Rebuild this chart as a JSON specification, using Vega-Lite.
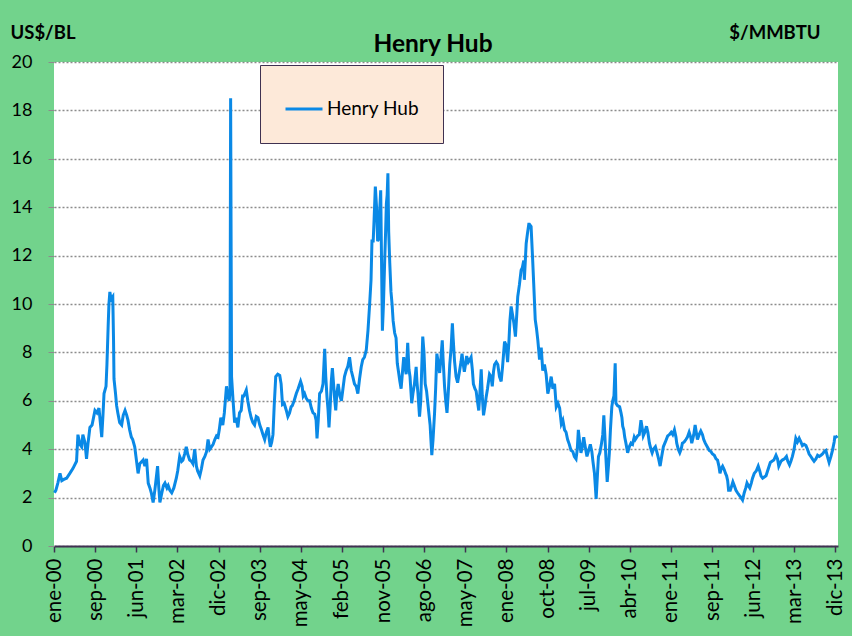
{
  "$schema": "https://vega.github.io/schema/vega-lite/v6.json",
  "width": 784,
  "height": 484,
  "autosize": "none",
  "padding": {"left": 54, "top": 62, "right": 14, "bottom": 90},
  "background": "#72D38C",
  "title": {"text": "Henry Hub", "fontSize": 24.5, "font": "Lato", "fontWeight": "bold", "color": "black", "dx": -13, "offset": 8, "dy": 42},
  "config": {
    "view": {"fill": "white", "stroke": null},
    "axis": {"labelFont": "Lato", "labelColor": "black", "titleFont": "Lato", "titleColor": "black"}
  },
  "data": {"values": [
{"d":"2000-01-04","v":2.2},{"d":"2000-01-13","v":2.3},{"d":"2000-01-26","v":2.6},{"d":"2000-02-09","v":3.0},{"d":"2000-02-21","v":2.7},{"d":"2000-03-05","v":2.75},{"d":"2000-03-23","v":2.8},{"d":"2000-04-13","v":3.0},{"d":"2000-05-03","v":3.2},{"d":"2000-05-27","v":3.5},{"d":"2000-06-05","v":4.6},{"d":"2000-06-18","v":4.2},{"d":"2000-06-29","v":4.1},{"d":"2000-07-07","v":4.6},{"d":"2000-07-20","v":4.3},{"d":"2000-07-31","v":3.6},{"d":"2000-08-09","v":4.2},{"d":"2000-08-22","v":4.9},{"d":"2000-09-05","v":5.0},{"d":"2000-09-24","v":5.6},{"d":"2000-10-07","v":5.5},{"d":"2000-10-20","v":5.7},{"d":"2000-11-07","v":4.5},{"d":"2000-11-15","v":5.4},{"d":"2000-11-22","v":6.3},{"d":"2000-12-05","v":6.6},{"d":"2000-12-11","v":7.5},{"d":"2000-12-19","v":9.1},{"d":"2000-12-24","v":10.0},{"d":"2000-12-30","v":10.5},{"d":"2001-01-07","v":10.2},{"d":"2001-01-18","v":10.3},{"d":"2001-01-23","v":8.5},{"d":"2001-01-26","v":6.9},{"d":"2001-02-05","v":6.3},{"d":"2001-02-12","v":5.8},{"d":"2001-02-20","v":5.5},{"d":"2001-03-04","v":5.1},{"d":"2001-03-17","v":5.0},{"d":"2001-03-27","v":5.4},{"d":"2001-04-08","v":5.6},{"d":"2001-04-19","v":5.4},{"d":"2001-04-27","v":5.2},{"d":"2001-05-08","v":4.8},{"d":"2001-05-19","v":4.5},{"d":"2001-05-28","v":4.4},{"d":"2001-06-10","v":4.1},{"d":"2001-06-20","v":3.6},{"d":"2001-07-02","v":3.0},{"d":"2001-07-13","v":3.4},{"d":"2001-08-04","v":3.55},{"d":"2001-08-15","v":3.3},{"d":"2001-08-26","v":3.6},{"d":"2001-09-06","v":2.6},{"d":"2001-09-17","v":2.4},{"d":"2001-09-26","v":2.2},{"d":"2001-10-08","v":1.8},{"d":"2001-10-19","v":2.3},{"d":"2001-11-06","v":3.3},{"d":"2001-11-14","v":2.4},{"d":"2001-11-21","v":1.8},{"d":"2001-12-04","v":2.2},{"d":"2001-12-14","v":2.5},{"d":"2001-12-24","v":2.6},{"d":"2002-01-06","v":2.4},{"d":"2002-01-14","v":2.5},{"d":"2002-01-25","v":2.3},{"d":"2002-02-06","v":2.2},{"d":"2002-02-20","v":2.4},{"d":"2002-03-08","v":2.8},{"d":"2002-03-17","v":3.1},{"d":"2002-03-30","v":3.7},{"d":"2002-04-12","v":3.5},{"d":"2002-04-20","v":3.55},{"d":"2002-05-01","v":3.8},{"d":"2002-05-12","v":4.1},{"d":"2002-05-21","v":3.8},{"d":"2002-06-03","v":3.55},{"d":"2002-06-14","v":3.5},{"d":"2002-06-24","v":3.4},{"d":"2002-07-06","v":4.0},{"d":"2002-07-17","v":3.3},{"d":"2002-07-25","v":3.1},{"d":"2002-08-08","v":2.9},{"d":"2002-08-19","v":3.2},{"d":"2002-08-29","v":3.55},{"d":"2002-09-10","v":3.7},{"d":"2002-09-21","v":3.9},{"d":"2002-10-01","v":4.4},{"d":"2002-10-12","v":4.0},{"d":"2002-10-23","v":4.1},{"d":"2002-11-03","v":4.2},{"d":"2002-11-14","v":4.4},{"d":"2002-11-25","v":4.55},{"d":"2002-12-05","v":4.5},{"d":"2002-12-13","v":4.8},{"d":"2002-12-23","v":5.3},{"d":"2003-01-05","v":5.0},{"d":"2003-01-15","v":5.5},{"d":"2003-01-29","v":6.6},{"d":"2003-02-07","v":6.2},{"d":"2003-02-16","v":6.0},{"d":"2003-02-21","v":6.4},{"d":"2003-02-25","v":18.5},{"d":"2003-03-03","v":7.0},{"d":"2003-03-13","v":6.0},{"d":"2003-03-23","v":5.1},{"d":"2003-04-02","v":5.3},{"d":"2003-04-13","v":4.9},{"d":"2003-04-24","v":5.5},{"d":"2003-05-05","v":5.6},{"d":"2003-05-14","v":6.2},{"d":"2003-05-22","v":6.2},{"d":"2003-06-07","v":6.45},{"d":"2003-06-17","v":6.0},{"d":"2003-06-28","v":5.6},{"d":"2003-07-09","v":5.3},{"d":"2003-07-20","v":5.1},{"d":"2003-07-31","v":5.0},{"d":"2003-08-11","v":5.35},{"d":"2003-08-22","v":5.3},{"d":"2003-09-03","v":5.0},{"d":"2003-09-14","v":4.8},{"d":"2003-09-24","v":4.6},{"d":"2003-10-05","v":4.4},{"d":"2003-10-16","v":4.7},{"d":"2003-10-27","v":4.9},{"d":"2003-11-04","v":4.4},{"d":"2003-11-11","v":4.1},{"d":"2003-11-20","v":4.3},{"d":"2003-11-28","v":4.6},{"d":"2003-12-06","v":5.8},{"d":"2003-12-16","v":7.0},{"d":"2003-12-29","v":7.1},{"d":"2004-01-11","v":7.05},{"d":"2004-01-20","v":6.7},{"d":"2004-01-29","v":5.85},{"d":"2004-02-09","v":5.9},{"d":"2004-02-23","v":5.6},{"d":"2004-03-04","v":5.35},{"d":"2004-03-15","v":5.5},{"d":"2004-03-25","v":5.75},{"d":"2004-04-02","v":5.8},{"d":"2004-04-14","v":6.0},{"d":"2004-04-28","v":6.3},{"d":"2004-05-10","v":6.5},{"d":"2004-05-26","v":6.8},{"d":"2004-06-05","v":6.6},{"d":"2004-06-12","v":6.2},{"d":"2004-06-21","v":6.3},{"d":"2004-07-02","v":6.1},{"d":"2004-07-13","v":6.0},{"d":"2004-07-24","v":6.0},{"d":"2004-08-04","v":5.7},{"d":"2004-08-15","v":5.5},{"d":"2004-08-26","v":5.45},{"d":"2004-09-04","v":5.2},{"d":"2004-09-10","v":4.45},{"d":"2004-09-18","v":5.2},{"d":"2004-09-27","v":6.3},{"d":"2004-10-09","v":6.4},{"d":"2004-10-19","v":6.7},{"d":"2004-10-30","v":8.15},{"d":"2004-11-06","v":7.0},{"d":"2004-11-14","v":6.15},{"d":"2004-11-21","v":5.6},{"d":"2004-11-27","v":4.9},{"d":"2004-12-05","v":5.8},{"d":"2004-12-12","v":6.8},{"d":"2004-12-19","v":7.35},{"d":"2004-12-28","v":6.6},{"d":"2005-01-04","v":6.0},{"d":"2005-01-10","v":5.6},{"d":"2005-01-17","v":6.3},{"d":"2005-01-26","v":6.7},{"d":"2005-02-06","v":6.2},{"d":"2005-02-16","v":6.0},{"d":"2005-02-26","v":6.5},{"d":"2005-03-08","v":7.0},{"d":"2005-03-19","v":7.25},{"d":"2005-03-29","v":7.4},{"d":"2005-04-10","v":7.8},{"d":"2005-04-21","v":7.25},{"d":"2005-05-01","v":7.0},{"d":"2005-05-12","v":6.7},{"d":"2005-05-23","v":6.6},{"d":"2005-06-03","v":6.3},{"d":"2005-06-14","v":6.9},{"d":"2005-06-25","v":7.4},{"d":"2005-07-05","v":7.7},{"d":"2005-07-16","v":7.8},{"d":"2005-07-28","v":8.1},{"d":"2005-08-08","v":8.9},{"d":"2005-08-19","v":10.0},{"d":"2005-08-28","v":11.0},{"d":"2005-09-03","v":12.6},{"d":"2005-09-11","v":12.6},{"d":"2005-09-17","v":13.5},{"d":"2005-09-25","v":14.85},{"d":"2005-10-03","v":14.0},{"d":"2005-10-10","v":12.6},{"d":"2005-10-18","v":12.7},{"d":"2005-10-23","v":13.8},{"d":"2005-10-30","v":14.7},{"d":"2005-11-04","v":12.0},{"d":"2005-11-10","v":8.9},{"d":"2005-11-17","v":10.0},{"d":"2005-11-25","v":11.8},{"d":"2005-12-01","v":13.0},{"d":"2005-12-06","v":14.15},{"d":"2005-12-11","v":14.5},{"d":"2005-12-16","v":15.4},{"d":"2005-12-21","v":13.0},{"d":"2005-12-28","v":11.7},{"d":"2006-01-05","v":10.5},{"d":"2006-01-12","v":10.0},{"d":"2006-01-19","v":9.3},{"d":"2006-01-29","v":8.8},{"d":"2006-02-07","v":8.6},{"d":"2006-02-15","v":7.55},{"d":"2006-02-23","v":7.2},{"d":"2006-03-04","v":6.8},{"d":"2006-03-12","v":6.5},{"d":"2006-03-21","v":7.2},{"d":"2006-03-29","v":7.8},{"d":"2006-04-06","v":7.4},{"d":"2006-04-14","v":7.1},{"d":"2006-04-24","v":8.4},{"d":"2006-05-02","v":7.3},{"d":"2006-05-09","v":7.0},{"d":"2006-05-15","v":6.4},{"d":"2006-05-20","v":5.9},{"d":"2006-05-28","v":6.3},{"d":"2006-06-07","v":6.7},{"d":"2006-06-18","v":7.4},{"d":"2006-06-23","v":6.8},{"d":"2006-06-30","v":6.3},{"d":"2006-07-10","v":5.35},{"d":"2006-07-18","v":6.0},{"d":"2006-07-25","v":7.5},{"d":"2006-07-31","v":8.65},{"d":"2006-08-08","v":8.0},{"d":"2006-08-16","v":6.7},{"d":"2006-08-25","v":6.4},{"d":"2006-09-07","v":5.6},{"d":"2006-09-17","v":5.0},{"d":"2006-09-23","v":4.3},{"d":"2006-09-28","v":3.75},{"d":"2006-10-06","v":4.4},{"d":"2006-10-16","v":5.5},{"d":"2006-10-23","v":6.5},{"d":"2006-10-31","v":7.95},{"d":"2006-11-08","v":7.6},{"d":"2006-11-18","v":7.15},{"d":"2006-11-27","v":7.8},{"d":"2006-12-05","v":8.5},{"d":"2006-12-10","v":7.8},{"d":"2006-12-20","v":6.6},{"d":"2006-12-29","v":5.9},{"d":"2007-01-05","v":5.5},{"d":"2007-01-13","v":6.3},{"d":"2007-01-23","v":7.5},{"d":"2007-02-01","v":8.2},{"d":"2007-02-09","v":9.2},{"d":"2007-02-14","v":8.6},{"d":"2007-02-23","v":7.65},{"d":"2007-03-05","v":7.0},{"d":"2007-03-15","v":6.75},{"d":"2007-03-27","v":7.2},{"d":"2007-04-06","v":7.6},{"d":"2007-04-13","v":7.95},{"d":"2007-04-19","v":7.6},{"d":"2007-04-28","v":7.2},{"d":"2007-05-08","v":7.6},{"d":"2007-05-13","v":7.85},{"d":"2007-05-24","v":7.6},{"d":"2007-06-03","v":7.7},{"d":"2007-06-11","v":7.8},{"d":"2007-06-19","v":7.3},{"d":"2007-06-26","v":6.7},{"d":"2007-07-06","v":6.5},{"d":"2007-07-14","v":6.4},{"d":"2007-07-22","v":6.0},{"d":"2007-07-31","v":5.6},{"d":"2007-08-08","v":6.4},{"d":"2007-08-16","v":7.3},{"d":"2007-08-23","v":6.2},{"d":"2007-08-31","v":5.4},{"d":"2007-09-10","v":5.8},{"d":"2007-09-17","v":6.15},{"d":"2007-09-26","v":6.5},{"d":"2007-10-09","v":7.1},{"d":"2007-10-19","v":7.0},{"d":"2007-10-27","v":6.6},{"d":"2007-11-04","v":7.2},{"d":"2007-11-11","v":7.5},{"d":"2007-11-22","v":7.6},{"d":"2007-12-02","v":7.5},{"d":"2007-12-13","v":7.0},{"d":"2007-12-24","v":6.8},{"d":"2008-01-02","v":7.4},{"d":"2008-01-15","v":8.45},{"d":"2008-01-25","v":8.3},{"d":"2008-02-04","v":7.6},{"d":"2008-02-13","v":8.5},{"d":"2008-02-19","v":9.3},{"d":"2008-02-27","v":9.9},{"d":"2008-03-06","v":9.6},{"d":"2008-03-16","v":9.2},{"d":"2008-03-26","v":8.65},{"d":"2008-04-04","v":9.6},{"d":"2008-04-10","v":10.3},{"d":"2008-04-21","v":10.8},{"d":"2008-05-02","v":11.4},{"d":"2008-05-10","v":11.5},{"d":"2008-05-19","v":11.8},{"d":"2008-05-23","v":11.0},{"d":"2008-06-04","v":12.5},{"d":"2008-06-12","v":12.9},{"d":"2008-06-21","v":13.3},{"d":"2008-06-25","v":13.3},{"d":"2008-07-06","v":13.2},{"d":"2008-07-15","v":12.0},{"d":"2008-07-23","v":10.85},{"d":"2008-08-02","v":9.35},{"d":"2008-08-10","v":9.0},{"d":"2008-08-19","v":8.5},{"d":"2008-08-30","v":7.7},{"d":"2008-09-10","v":8.2},{"d":"2008-09-20","v":7.25},{"d":"2008-10-01","v":7.5},{"d":"2008-10-12","v":7.1},{"d":"2008-10-23","v":6.3},{"d":"2008-11-03","v":6.6},{"d":"2008-11-14","v":7.0},{"d":"2008-11-25","v":6.5},{"d":"2008-12-06","v":6.7},{"d":"2008-12-17","v":5.75},{"d":"2008-12-28","v":5.9},{"d":"2009-01-08","v":5.7},{"d":"2009-01-19","v":5.05},{"d":"2009-01-29","v":5.2},{"d":"2009-02-09","v":4.8},{"d":"2009-02-19","v":4.7},{"d":"2009-03-01","v":4.4},{"d":"2009-03-12","v":4.2},{"d":"2009-03-23","v":3.95},{"d":"2009-04-04","v":3.9},{"d":"2009-04-14","v":3.7},{"d":"2009-04-25","v":3.6},{"d":"2009-05-03","v":4.0},{"d":"2009-05-10","v":4.8},{"d":"2009-05-20","v":4.2},{"d":"2009-05-27","v":3.85},{"d":"2009-06-05","v":4.1},{"d":"2009-06-14","v":4.5},{"d":"2009-06-21","v":4.2},{"d":"2009-07-05","v":3.7},{"d":"2009-07-14","v":3.9},{"d":"2009-07-27","v":4.2},{"d":"2009-08-06","v":3.9},{"d":"2009-08-13","v":3.5},{"d":"2009-08-23","v":3.0},{"d":"2009-09-03","v":1.95},{"d":"2009-09-11","v":2.9},{"d":"2009-09-18","v":3.7},{"d":"2009-09-27","v":3.85},{"d":"2009-10-07","v":4.2},{"d":"2009-10-16","v":4.6},{"d":"2009-10-23","v":5.4},{"d":"2009-10-29","v":4.65},{"d":"2009-11-06","v":3.6},{"d":"2009-11-14","v":2.65},{"d":"2009-11-22","v":3.3},{"d":"2009-11-28","v":3.85},{"d":"2009-12-05","v":4.8},{"d":"2009-12-14","v":5.75},{"d":"2009-12-20","v":6.0},{"d":"2009-12-28","v":6.2},{"d":"2010-01-05","v":7.55},{"d":"2010-01-10","v":5.9},{"d":"2010-01-20","v":5.8},{"d":"2010-02-03","v":5.75},{"d":"2010-02-12","v":5.5},{"d":"2010-02-18","v":5.3},{"d":"2010-02-23","v":4.95},{"d":"2010-03-02","v":4.8},{"d":"2010-03-08","v":4.5},{"d":"2010-03-16","v":4.25},{"d":"2010-03-27","v":3.85},{"d":"2010-04-07","v":4.1},{"d":"2010-04-18","v":4.25},{"d":"2010-04-28","v":4.2},{"d":"2010-05-09","v":4.5},{"d":"2010-05-16","v":4.4},{"d":"2010-05-31","v":4.55},{"d":"2010-06-11","v":4.6},{"d":"2010-06-22","v":5.2},{"d":"2010-07-02","v":4.8},{"d":"2010-07-07","v":4.55},{"d":"2010-07-17","v":4.7},{"d":"2010-07-28","v":4.95},{"d":"2010-08-06","v":4.7},{"d":"2010-08-16","v":4.25},{"d":"2010-08-26","v":4.0},{"d":"2010-09-03","v":3.85},{"d":"2010-09-11","v":4.0},{"d":"2010-09-24","v":4.1},{"d":"2010-10-03","v":3.9},{"d":"2010-10-15","v":3.6},{"d":"2010-10-25","v":3.3},{"d":"2010-11-04","v":3.7},{"d":"2010-11-15","v":4.1},{"d":"2010-11-28","v":4.3},{"d":"2010-12-13","v":4.55},{"d":"2010-12-24","v":4.6},{"d":"2011-01-05","v":4.7},{"d":"2011-01-15","v":4.6},{"d":"2011-01-26","v":4.8},{"d":"2011-02-05","v":4.5},{"d":"2011-02-10","v":4.25},{"d":"2011-02-20","v":4.0},{"d":"2011-03-02","v":3.85},{"d":"2011-03-11","v":4.0},{"d":"2011-03-19","v":4.25},{"d":"2011-03-31","v":4.3},{"d":"2011-04-11","v":4.4},{"d":"2011-04-21","v":4.5},{"d":"2011-05-02","v":4.7},{"d":"2011-05-12","v":4.5},{"d":"2011-05-19","v":4.25},{"d":"2011-06-01","v":4.6},{"d":"2011-06-10","v":5.0},{"d":"2011-06-20","v":4.6},{"d":"2011-06-25","v":4.4},{"d":"2011-07-06","v":4.6},{"d":"2011-07-17","v":4.75},{"d":"2011-07-28","v":4.6},{"d":"2011-08-05","v":4.4},{"d":"2011-08-15","v":4.25},{"d":"2011-08-28","v":4.1},{"d":"2011-09-10","v":3.95},{"d":"2011-09-21","v":3.9},{"d":"2011-10-01","v":3.8},{"d":"2011-10-13","v":3.75},{"d":"2011-10-24","v":3.6},{"d":"2011-11-03","v":3.55},{"d":"2011-11-12","v":3.3},{"d":"2011-11-19","v":3.0},{"d":"2011-11-27","v":3.2},{"d":"2011-12-06","v":3.3},{"d":"2011-12-17","v":3.15},{"d":"2011-12-25","v":3.0},{"d":"2012-01-01","v":2.9},{"d":"2012-01-08","v":2.7},{"d":"2012-01-14","v":2.3},{"d":"2012-01-25","v":2.3},{"d":"2012-02-04","v":2.5},{"d":"2012-02-11","v":2.65},{"d":"2012-02-20","v":2.5},{"d":"2012-03-02","v":2.3},{"d":"2012-03-12","v":2.2},{"d":"2012-03-23","v":2.1},{"d":"2012-04-04","v":2.0},{"d":"2012-04-14","v":1.9},{"d":"2012-04-25","v":2.2},{"d":"2012-05-05","v":2.4},{"d":"2012-05-13","v":2.6},{"d":"2012-05-21","v":2.5},{"d":"2012-05-31","v":2.4},{"d":"2012-06-10","v":2.6},{"d":"2012-06-18","v":2.8},{"d":"2012-06-29","v":3.0},{"d":"2012-07-12","v":3.1},{"d":"2012-07-25","v":3.3},{"d":"2012-08-04","v":3.1},{"d":"2012-08-12","v":2.9},{"d":"2012-08-23","v":2.8},{"d":"2012-09-03","v":2.85},{"d":"2012-09-14","v":2.9},{"d":"2012-09-24","v":3.1},{"d":"2012-10-12","v":3.45},{"d":"2012-10-23","v":3.5},{"d":"2012-11-04","v":3.55},{"d":"2012-11-18","v":3.75},{"d":"2012-11-28","v":3.6},{"d":"2012-12-06","v":3.3},{"d":"2012-12-20","v":3.5},{"d":"2012-12-29","v":3.55},{"d":"2013-01-12","v":3.6},{"d":"2013-01-25","v":3.7},{"d":"2013-02-03","v":3.5},{"d":"2013-02-14","v":3.35},{"d":"2013-02-23","v":3.5},{"d":"2013-03-05","v":3.7},{"d":"2013-03-16","v":4.0},{"d":"2013-03-27","v":4.45},{"d":"2013-04-07","v":4.3},{"d":"2013-04-18","v":4.45},{"d":"2013-04-29","v":4.3},{"d":"2013-05-09","v":4.15},{"d":"2013-05-20","v":4.2},{"d":"2013-06-01","v":4.15},{"d":"2013-06-11","v":4.0},{"d":"2013-06-22","v":3.8},{"d":"2013-07-03","v":3.7},{"d":"2013-07-13","v":3.6},{"d":"2013-07-24","v":3.5},{"d":"2013-08-05","v":3.6},{"d":"2013-08-16","v":3.75},{"d":"2013-08-27","v":3.7},{"d":"2013-09-07","v":3.75},{"d":"2013-09-17","v":3.8},{"d":"2013-09-28","v":3.9},{"d":"2013-10-09","v":3.95},{"d":"2013-10-19","v":3.7},{"d":"2013-10-30","v":3.45},{"d":"2013-11-11","v":3.7},{"d":"2013-11-21","v":3.95},{"d":"2013-12-02","v":4.3},{"d":"2013-12-06","v":4.5},{"d":"2013-12-15","v":4.5},{"d":"2013-12-24","v":4.55}
  ]},
  "layer": [
    {
      "mark": {"type": "line", "strokeWidth": 3, "interpolate": "linear"},
      "encoding": {
        "x": {
          "field": "d", "type": "temporal",
          "scale": {"domain": [{"year": 2000, "month": 1, "date": 1}, {"year": 2013, "month": 12, "date": 27}]},
          "axis": {
            "title": null, "grid": false,
            "values": [
              {"year": 2000, "month": 1, "date": 2}, {"year": 2000, "month": 9, "date": 25}, {"year": 2001, "month": 6, "date": 20},
              {"year": 2002, "month": 3, "date": 15}, {"year": 2002, "month": 12, "date": 8}, {"year": 2003, "month": 9, "date": 2},
              {"year": 2004, "month": 5, "date": 27}, {"year": 2005, "month": 2, "date": 19}, {"year": 2005, "month": 11, "date": 14},
              {"year": 2006, "month": 8, "date": 9}, {"year": 2007, "month": 5, "date": 4}, {"year": 2008, "month": 1, "date": 27},
              {"year": 2008, "month": 10, "date": 21}, {"year": 2009, "month": 7, "date": 16}, {"year": 2010, "month": 4, "date": 10},
              {"year": 2011, "month": 1, "date": 3}, {"year": 2011, "month": 9, "date": 28}, {"year": 2012, "month": 6, "date": 22},
              {"year": 2013, "month": 3, "date": 17}, {"year": 2013, "month": 12, "date": 10}
            ],
            "labelExpr": "['ene','feb','mar','abr','may','jun','jul','ago','sep','oct','nov','dic'][month(datum.value)] + '-' + timeFormat(datum.value, '%y')",
            "labelAngle": -90, "labelFontSize": 20.5, "labelPadding": 6, "labelOverlap": false, "labelFlush": false,
            "domainColor": "#3F3151", "domainWidth": 2, "tickColor": "#3F3151", "tickWidth": 1.5, "tickSize": 6
          }
        },
        "y": {
          "field": "v", "type": "quantitative",
          "scale": {"domain": [0, 20], "nice": false},
          "axis": {
            "values": [0, 2, 4, 6, 8, 10, 12, 14, 16, 18, 20],
            "title": "US$/BL", "titleAngle": 0, "titleX": -44, "titleY": -24, "titleAlign": "left", "titleBaseline": "alphabetic",
            "titleFontSize": 18.5, "titleFontWeight": "bold",
            "labelFontSize": 18, "labelPadding": 16,
            "grid": true, "gridColor": "#8C8C8C", "gridDash": [2, 2], "gridWidth": 1.5,
            "domain": false, "tickColor": "#8C8C8C", "tickSize": 6
          }
        },
        "color": {
          "datum": "Henry Hub", "type": "nominal",
          "scale": {"range": ["#0A89E6"]},
          "legend": {
            "title": null, "orient": "none", "legendX": 206, "legendY": 3,
            "fillColor": "#FDE9D9", "strokeColor": "#3F3151", "padding": 24,
            "symbolType": "stroke", "symbolSize": 1369, "symbolStrokeWidth": 3,
            "labelFont": "Lato", "labelFontSize": 19, "labelColor": "black", "labelOffset": 3
          }
        }
      }
    },
    {
      "mark": {"type": "rule", "opacity": 0},
      "encoding": {
        "y": {
          "datum": 0, "type": "quantitative",
          "axis": {
            "orient": "right", "title": "$/MMBTU", "titleAngle": 0, "titleX": -18, "titleY": -24,
            "titleAlign": "right", "titleBaseline": "alphabetic", "titleFontSize": 18.5, "titleFontWeight": "bold",
            "labels": false, "ticks": false, "domain": false, "grid": false
          }
        }
      }
    }
  ],
  "resolve": {"axis": {"y": "independent"}}
}
